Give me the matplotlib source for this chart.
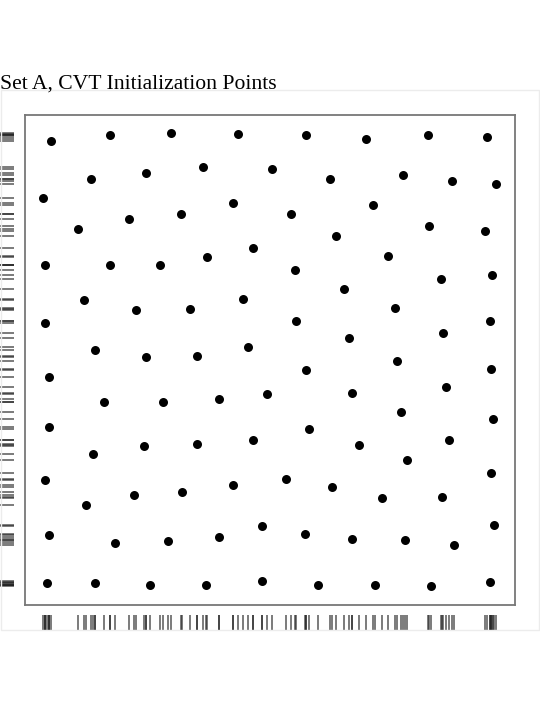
import numpy as np
import matplotlib
matplotlib.use("Agg")
import matplotlib.pyplot as plt
from matplotlib.transforms import blended_transform_factory
from matplotlib.patches import Rectangle

# CVT initialization points (unit: percent of the domain)
x_pts = [1.7, 14.8, 28.3, 43.1, 10.6, 22.6, 35.2, 50.4, 0.0, 42.0,
         30.5, 19.0, 7.7, 46.4, 36.2, 0.4, 14.8, 25.8, 44.2, 9.0,
         32.5, 20.6, 0.4, 45.3, 11.4, 34.0, 22.6,
         57.9, 71.2, 84.9, 98.0, 63.2, 79.4, 90.3, 100.0, 72.7, 54.6,
         85.1, 97.5, 64.6, 76.1, 55.5, 99.1, 87.8, 66.3, 77.6, 55.7,
         98.6, 88.3, 67.4, 78.1,
         1.3, 13.4, 26.5, 38.7, 49.5, 1.3, 46.2, 34.0, 22.3, 11.0,
         0.4, 41.8, 30.7, 20.1, 9.4, 48.2, 1.3, 38.7, 27.6, 15.9,
         0.8, 11.4, 48.4, 36.0, 23.6,
         58.1, 98.9, 68.1, 88.9, 78.9, 99.3, 58.6, 89.6, 69.6, 80.3,
         98.9, 53.5, 63.7, 88.0, 74.7, 99.5, 57.7, 68.1, 79.8, 90.7,
         60.6, 73.2, 85.6, 98.6]
y_pts = [98.3, 99.5, 100.0, 99.7, 89.8, 91.2, 92.5, 92.1, 85.6, 84.5,
         82.1, 81.0, 78.8, 74.6, 72.6, 71.0, 71.0, 71.0, 63.5, 63.1,
         61.3, 60.9, 58.0, 52.8, 52.2, 50.9, 50.5,
         99.5, 98.7, 99.5, 99.1, 89.8, 90.7, 89.4, 88.7, 84.1, 82.1,
         79.4, 78.5, 77.2, 72.8, 69.7, 68.8, 67.9, 65.7, 61.5, 58.6,
         58.6, 56.0, 54.7, 49.8,
         46.3, 40.7, 40.7, 41.4, 42.5, 35.2, 32.3, 31.4, 31.0, 29.2,
         23.5, 22.4, 20.8, 20.1, 17.9, 13.3, 11.3, 10.8, 10.0, 9.5,
         0.7, 0.7, 1.1, 0.4, 0.2,
         47.8, 48.0, 42.7, 44.0, 38.5, 37.0, 34.7, 32.3, 31.2, 27.9,
         25.0, 23.7, 21.9, 19.7, 19.5, 13.5, 11.5, 10.4, 10.2, 9.1,
         0.4, 0.4, 0.0, 0.9]

title = "Set A, CVT Initialization Points"


def main():
    fig = plt.figure(figsize=(5.4, 7.2), dpi=100)
    W, H = 540.0, 720.0

    # light outer frame
    fig.patches.append(Rectangle((0.5 / W, 90 / H), 538.5 / W, 540 / H,
                                 transform=fig.transFigure, fill=False,
                                 edgecolor="#ececec", linewidth=1.0))

    ax = fig.add_axes([25 / W, 115.5 / H, 489.5 / W, 489.5 / H])
    ax.scatter(x_pts, y_pts, s=42, c="black", linewidths=0, zorder=3)
    ax.margins(0.04)
    ax.set_xticks([])
    ax.set_yticks([])
    for sp in ax.spines.values():
        sp.set_color("#777777")
        sp.set_linewidth(1.3)

    # rug marks outside the plot box
    tb = blended_transform_factory(ax.transData, fig.transFigure)
    ax.vlines(x_pts, 1 - 630 / H, 1 - 615 / H, transform=tb, clip_on=False,
              colors="#222222", alpha=0.6, linewidth=1.4)
    tl = blended_transform_factory(fig.transFigure, ax.transData)
    ax.hlines(y_pts, 0, 14 / W, transform=tl, clip_on=False,
              colors="#222222", alpha=0.6, linewidth=1.4)

    fig.text(0.0, 1 - 89 / H, title, family="Liberation Serif", fontsize=15.6,
             ha="left", va="baseline")

    fig.savefig("out.png", dpi=100)


if __name__ == '__main__':
    main()
